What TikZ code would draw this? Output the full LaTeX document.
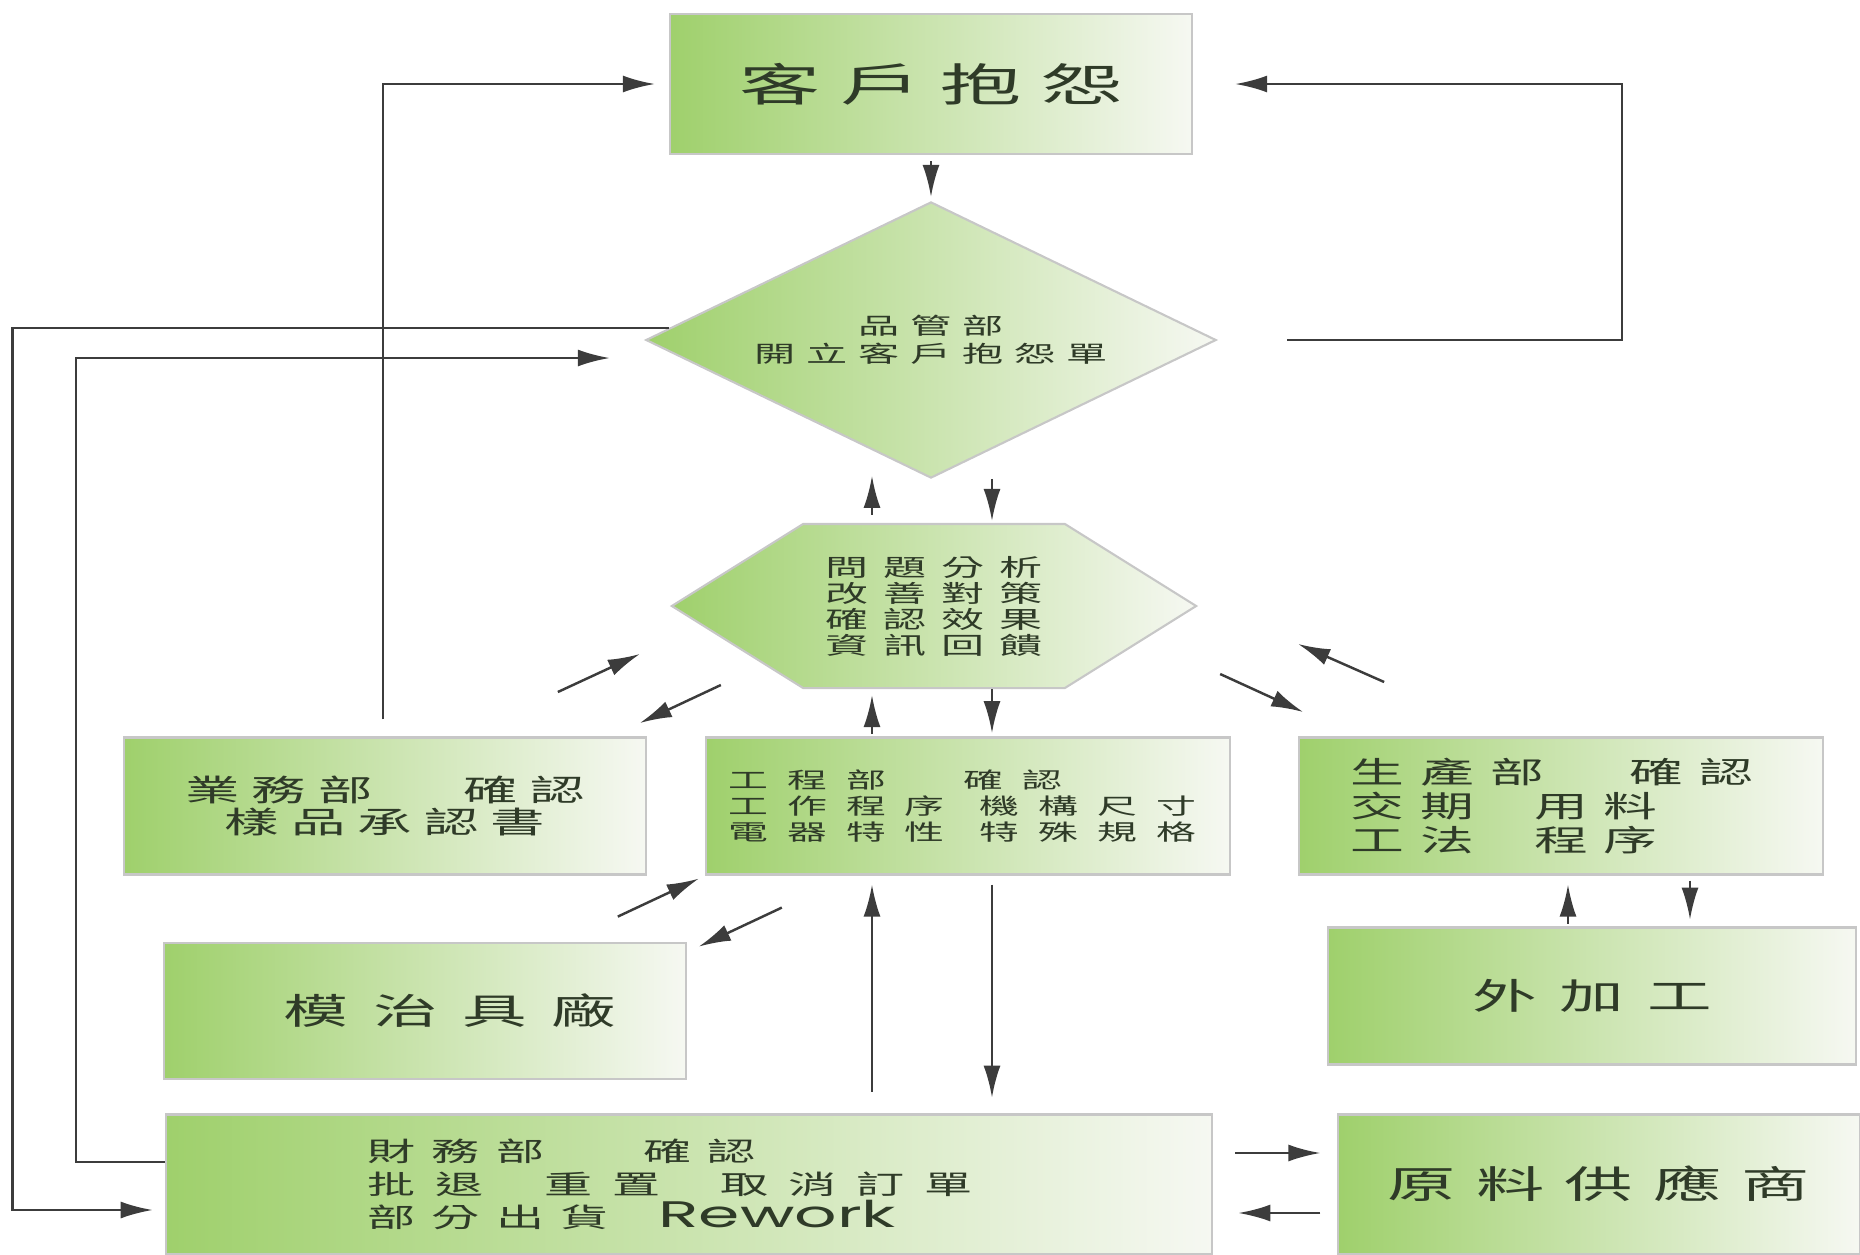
\documentclass[tikz,border=0pt]{standalone}
\usepackage{fontspec}
\usepackage{tikz}
\usetikzlibrary{calc,shapes,arrows.meta}
\newfontfamily\cjk[FakeStretch=1.8]{Noto Sans CJK TC}
\newfontfamily\rwfont[FakeStretch=1.8]{Poppins}
\newcommand\cjksize[3]{\cjk\fontsize{#1}{#2}\selectfont\addfontfeature{LetterSpace=#3}}
\newcommand\gap[1][0.35cm]{\kern#1\relax}
\definecolor{gleft}{HTML}{9FD06C}
\definecolor{gright}{HTML}{F6F8F2}
\definecolor{txt}{HTML}{2F3B28}
\definecolor{arrowgray}{HTML}{3C3C3C}

\begin{document}
\begin{tikzpicture}[x=0.01cm,y=-0.01cm,
    box/.style={draw=black!22, line width=0.6pt, left color=gleft, right color=gright, text=txt, inner sep=0pt},
    flow/.style={draw=arrowgray, line width=0.7pt, -{Latex[length=3.2mm,width=1.7mm]}}]
    \useasboundingbox (0,0) rectangle (1860,1254);

    \node[box, minimum width=5.22cm, minimum height=1.4cm, font={\cjksize{12.8}{14}{44}}] (A) at (931,84) {客戶抱怨};
    \node[box, diamond, shape aspect=2.07, minimum width=5.7cm, minimum height=2.76cm, align=center, font={\cjksize{6.5}{8}{48}}] (B) at (931,340) {品管部\\開立客戶抱怨單};
    \node[box, signal, signal to=east and west, signal pointer angle=64, minimum width=5.24cm, minimum height=1.64cm, align=center, font={\cjksize{6.8}{7.4}{62}}] (C) at (934,606) {問題分析\\改善對策\\確認效果\\資訊回饋};
    \node[box, minimum width=5.21cm, minimum height=1.37cm, align=center, font={\cjksize{8.6}{9.3}{40}}] (E) at (385,806) {業務部　\ 確認\\樣品承認書};
    \node[box, minimum width=5.24cm, minimum height=1.37cm, text width=4.78cm, inner xsep=0.23cm, align=left, font={\cjksize{6.3}{7.3}{85}}] (D) at (968,806) {工程部　確認\\工作程序\gap 機構尺寸\\電器特性\gap 特殊規格};
    \node[box, minimum width=5.24cm, minimum height=1.37cm, text width=4.2cm, inner xsep=0.52cm, align=left, font={\cjksize{8.5}{9.7}{53}}] (F) at (1561,806) {生產部　確認\\交期\gap[0.6cm]用料\\工法\gap[0.6cm]程序};
    \node[box, minimum width=5.28cm, minimum height=1.37cm, font={\cjksize{10.2}{12}{64}}] (G) at (1592,996) {外加工};
    \node[box, minimum width=5.22cm, minimum height=1.36cm, font={\cjksize{10.2}{12}{69}}] (H) at (425,1011) {\hspace*{0.5cm}模治具廠};
    \node[box, minimum width=10.46cm, minimum height=1.39cm, text width=6.42cm, inner xsep=2.02cm, align=left, font={\cjksize{7.6}{9.4}{60}}] (I) at (689,1184) {財務部　\gap 確認\\{\addfontfeature{LetterSpace=75}批退\gap[0.6cm]重置\gap[0.6cm]取消訂單}\\部分出貨\gap[0.5cm]{\rwfont\fontsize{10.5}{9.4}\selectfont Rework}};
    \node[box, minimum width=5.22cm, minimum height=1.39cm, font={\cjksize{10.8}{12}{53}}] (J) at (1599,1184) {原料供應商};

    \draw[flow] ($(A.south)+(0,6)$) -- ($(B.north)+(0,-4)$);
    \draw[flow] ($(B.east)+(70,0)$) -- ++(335,0) |- ($(A.east)+(42,0)$);
    \draw[flow] ($(E.north)+(-2,-17)$) |- ($(A.west)+(-14,0)$);
    \draw[flow] ($(B.west)+(24,-12)$) -| ($(I.west)+(-152,26)$) -- ($(I.west)+(-12,26)$);
    \draw[flow] ($(I.west)+(0,-22)$) -| ($(B.west)+(-569,18)$) -- ($(B.west)+(-35,18)$);

    \draw[flow] ($(C.north)+(-62,-8)$) -- ($(C.north)+(-62,-47)$);
    \draw[flow] ($(C.north)+(58,-44)$) -- ($(C.north)+(58,-2)$);
    \draw[flow] ($(C.south)+(-62,45)$) -- ($(C.south)+(-62,6)$);
    \draw[flow] ($(C.south)+(58,0)$) -- ($(C.south)+(58,44)$);

    \draw[flow] ($(C.west)+(-112,86)$) -- ($(C.west)+(-30,48)$);
    \draw[flow] ($(C.west)+(51,79)$) -- ($(C.west)+(-30,117)$);
    \draw[flow] ($(C.east)+(186,76)$) -- ($(C.east)+(100,38)$);
    \draw[flow] ($(C.east)+(22,68)$) -- ($(C.east)+(105,106)$);

    \draw[flow] ($(F.south)+(7,48)$) -- ($(F.south)+(7,9)$);
    \draw[flow] ($(F.south)+(129,5)$) -- ($(F.south)+(129,44)$);

    \draw[flow] ($(D.south west)+(-87,41)$) -- ($(D.south west)+(-6,3)$);
    \draw[flow] ($(D.south west)+(77,32)$) -- ($(D.south west)+(-6,71)$);
    \draw[flow] ($(D.south)+(-96,216)$) -- ($(D.south)+(-96,9)$);
    \draw[flow] ($(D.south)+(24,9)$) -- ($(D.south)+(24,222)$);

    \draw[flow] ($(I.east)+(22,-31)$) -- ($(I.east)+(107,-31)$);
    \draw[flow] ($(I.east)+(107,29)$) -- ($(I.east)+(25,29)$);
\end{tikzpicture}
\end{document}
